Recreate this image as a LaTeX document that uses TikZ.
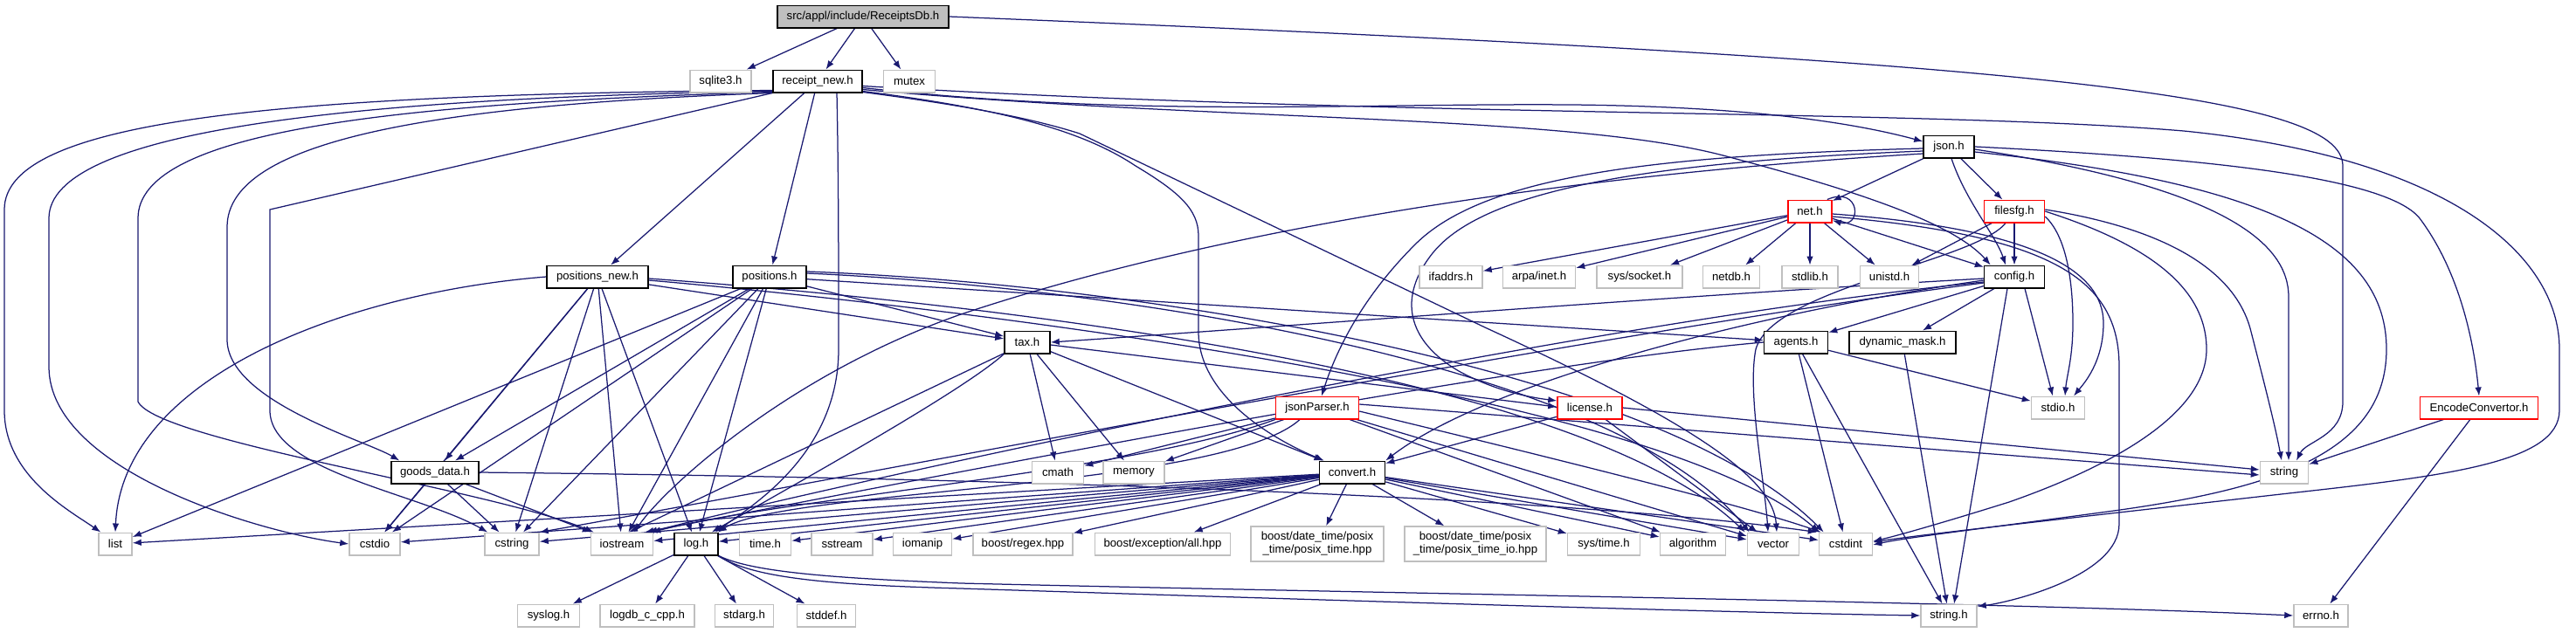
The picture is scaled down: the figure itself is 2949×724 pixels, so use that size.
\documentclass[tikz,border=0pt]{standalone}
\usepackage{fontspec}
\setmainfont{Liberation Sans}
\usetikzlibrary{arrows.meta}
\pgfdeclarelayer{bg}
\pgfsetlayers{bg,main}
\definecolor{navy}{HTML}{191970}
\definecolor{gry}{HTML}{BFBFBF}
\newcommand\lab{\fontsize{13.2}{15}\selectfont}
\tikzset{
 nb/.style={draw=black, line width=1.5pt, fill=white, minimum height=25.5pt, inner sep=0pt, font=\lab},
 ng/.style={nb, draw=gry},
 nr/.style={nb, draw=red},
 nroot/.style={nb, fill=gry},
 inc/.style={draw=navy, line width=1.25pt, -{Latex[length=10pt,width=7.5pt]}},
}
\begin{document}
\begin{tikzpicture}[x=1pt,y=-1pt]
\useasboundingbox (0,0) rectangle (2949,724);
% ---------- nodes ----------
\node[nroot,minimum width=196pt] (root) at (988,19) {src/appl/include/ReceiptsDb.h};
\node[ng,minimum width=70pt] (sqlite) at (825,93) {sqlite3.h};
\node[nb,minimum width=102pt] (rn) at (936,93) {receipt\_new.h};
\node[ng,minimum width=59pt] (mutex) at (1041,93) {mutex};
\node[nb,minimum width=58pt] (json) at (2231,168) {json.h};
\node[nr,minimum width=50pt] (net) at (2072,242) {net.h};
\node[nr,minimum width=69pt] (filesfg) at (2306,242) {filesfg.h};
\node[nb,minimum width=116pt] (pn) at (684,317) {positions\_new.h};
\node[nb,minimum width=84pt] (pos) at (881,317) {positions.h};
\node[ng,minimum width=72pt] (ifaddrs) at (1661,317) {ifaddrs.h};
\node[ng,minimum width=83pt] (arpa) at (1762,317) {arpa/inet.h};
\node[ng,minimum width=98pt] (socket) at (1877,317) {sys/socket.h};
\node[ng,minimum width=65pt] (netdb) at (1982,317) {netdb.h};
\node[ng,minimum width=64pt] (stdlib) at (2072,317) {stdlib.h};
\node[ng,minimum width=67pt] (unistd) at (2163,317) {unistd.h};
\node[nb,minimum width=69pt] (config) at (2306,317) {config.h};
\node[nb,minimum width=52pt] (tax) at (1176,392) {tax.h};
\node[nb,minimum width=73pt] (agents) at (2056,392) {agents.h};
\node[nb,minimum width=122pt] (dmask) at (2178,392) {dynamic\_mask.h};
\node[nr,minimum width=95pt] (jp) at (1508,467) {jsonParser.h};
\node[nr,minimum width=74pt] (lic) at (1820,467) {license.h};
\node[ng,minimum width=61pt] (stdioh) at (2356,467) {stdio.h};
\node[nr,minimum width=135pt] (enc) at (2838,467) {EncodeConvertor.h};
\node[nb,minimum width=100pt] (goods) at (498,541) {goods\_data.h};
\node[ng,minimum width=59pt] (cmath) at (1211,541) {cmath};
\node[ng,minimum width=70pt] (memory) at (1298,541) {memory};
\node[nb,minimum width=75pt] (conv) at (1548,541) {convert.h};
\node[ng,minimum width=55pt] (string) at (2615,541) {string};
\node[ng,minimum width=38pt] (list) at (132,623) {list};
\node[ng,minimum width=58pt] (cstdio) at (429,623) {cstdio};
\node[ng,minimum width=62pt] (cstring) at (586,623) {cstring};
\node[ng,minimum width=71pt] (iostream) at (712,623) {iostream};
\node[nb,minimum width=50pt] (log) at (797,623) {log.h};
\node[ng,minimum width=59pt] (timeh) at (876,623) {time.h};
\node[ng,minimum width=70pt] (sstream) at (964,623) {sstream};
\node[ng,minimum width=67pt] (iomanip) at (1056,623) {iomanip};
\node[ng,minimum width=114pt] (regex) at (1171,623) {boost/regex.hpp};
\node[ng,minimum width=155pt] (exc) at (1331,623) {boost/exception/all.hpp};
\node[ng,minimum width=152pt,minimum height=40pt,align=center] (ptime) at (1508,623) {boost/date\_time/posix\\\_time/posix\_time.hpp};
\node[ng,minimum width=162pt,minimum height=40pt,align=center] (ptimeio) at (1689,623) {boost/date\_time/posix\\\_time/posix\_time\_io.hpp};
\node[ng,minimum width=83pt] (systime) at (1836,623) {sys/time.h};
\node[ng,minimum width=75pt] (algo) at (1938,623) {algorithm};
\node[ng,minimum width=59pt] (vector) at (2030,623) {vector};
\node[ng,minimum width=61pt] (cstdint) at (2113,623) {cstdint};
\node[ng,minimum width=71pt] (syslog) at (628,705) {syslog.h};
\node[ng,minimum width=108pt] (logdb) at (741,705) {logdb\_c\_cpp.h};
\node[ng,minimum width=67pt] (stdarg) at (852,705) {stdarg.h};
\node[ng,minimum width=67pt] (stddef) at (946,705) {stddef.h};
\node[ng,minimum width=64pt] (stringh) at (2231,705) {string.h};
\node[ng,minimum width=62pt] (errno) at (2657,705) {errno.h};
\begin{pgfonlayer}{bg}
% ---------- root ----------
\draw[inc] (root) -- (sqlite);
\draw[inc] (root) -- (rn);
\draw[inc] (root) -- (mutex);
\draw[inc] (root.east) .. controls (2350,70) and (2682,110) .. (2682,190) -- (2682,460) .. controls (2682,500) and (2640,505) .. ([xshift=14pt]string.north);
% ---------- receipt_new ----------
\draw[inc] ([yshift=3pt]rn.south west) .. controls (300,108) and (5,140) .. (5,240) -- (5,470) .. controls (5,545) and (80,585) .. ([xshift=3pt]list.north west);
\draw[inc] ([yshift=2pt]rn.south west) .. controls (400,112) and (56,150) .. (56,250) -- (56,420) .. controls (56,540) and (300,610) .. (cstdio.west);
\draw[inc] ([yshift=1pt]rn.south west) .. controls (450,118) and (158,150) .. (158,250) -- (158,460) .. controls (180,505) and (560,560) .. ([xshift=4pt]iostream.north west);
\draw[inc] (rn.south west) .. controls (500,120) and (260,160) .. (260,260) -- (260,390) .. controls (262,460) and (420,505) .. ([xshift=10pt]goods.north west);
\draw[inc] (rn.south west) -- (309,240) -- (309,470) .. controls (309,540) and (480,565) .. ([xshift=4pt]cstring.north west);
\draw[inc] (rn) -- (pn);
\draw[inc] (rn) -- (pos);
\draw[inc] ([xshift=22pt]rn.south) .. controls (960,200) and (960,300) .. (960,400) .. controls (960,520) and (860,580) .. ([xshift=-4pt]log.north east);
\draw[inc] ([yshift=6pt]rn.south east) .. controls (1300,135) and (1550,118) .. (1800,120) .. controls (2000,122) and (2120,140) .. ([yshift=6pt]json.west);
\draw[inc] ([yshift=4pt]rn.south east) .. controls (1400,140) and (1800,130) .. (1980,180) .. controls (2150,225) and (2240,260) .. ([xshift=8pt]config.north west);
\draw[inc] ([yshift=2pt]rn.south east) .. controls (1150,125) and (1240,150) .. (1300,190) .. controls (1350,220) and (1372,240) .. (1372,270) -- (1372,380) .. controls (1372,450) and (1450,500) .. ([xshift=6pt]conv.north west);
\draw[inc] ([yshift=1pt]rn.south east) .. controls (1100,120) and (1180,135) .. (1236,153) -- (1700,375) .. controls (1950,490) and (2030,550) .. ([xshift=4pt]vector.north);
\draw[inc] ([yshift=8pt]rn.south east) .. controls (1600,135) and (2200,125) .. (2500,150) .. controls (2800,180) and (2930,290) .. (2930,400) -- (2930,470) .. controls (2930,530) and (2800,545) .. (2620,565) .. controls (2400,590) and (2200,612) .. ([yshift=2pt]cstdint.east);
% ---------- json ----------
\draw[inc] (json) -- (net);
\draw[inc] (json) -- (filesfg);
\draw[inc] ([xshift=3pt]json.south) .. controls (2250,230) and (2285,270) .. ([xshift=-10pt]config.north);
\draw[inc] ([yshift=-2pt]json.west) .. controls (1900,178) and (1700,200) .. (1620,280) .. controls (1560,340) and (1530,400) .. ([xshift=5pt]jp.north);
\draw[inc] ([yshift=-5pt]json.west) .. controls (1900,185) and (1700,215) .. (1640,290) .. controls (1600,340) and (1610,390) .. (1670,425) .. controls (1710,447) and (1750,455) .. ([yshift=8pt]lic.west);
\draw[inc] ([yshift=-8pt]json.west) .. controls (1800,200) and (1400,260) .. (1100,360) .. controls (900,430) and (760,560) .. ([xshift=14pt]iostream.north);
\draw[inc] ([yshift=-3pt]json.east) .. controls (2550,215) and (2620,280) .. (2620,340) -- ([xshift=5pt]string.north);
\draw[inc] ([yshift=-6pt]json.east) .. controls (2600,210) and (2732,280) .. (2732,400) .. controls (2732,520) and (2600,560) .. (2420,585) .. controls (2250,608) and (2180,616) .. ([yshift=-1pt]cstdint.east);
\draw[inc] (json.east) .. controls (2500,180) and (2730,200) .. (2770,250) .. controls (2815,310) and (2832,390) .. (enc.north);
% ---------- net ----------
\draw[inc] ([xshift=-6pt]net.north east) .. controls (2130,212) and (2132,262) .. ([yshift=3pt]net.south east);
\draw[inc] (net) -- (ifaddrs);
\draw[inc] (net) -- (arpa);
\draw[inc] (net) -- (socket);
\draw[inc] (net) -- (netdb);
\draw[inc] (net) -- (stdlib);
\draw[inc] (net) -- (unistd);
\draw[inc] (net) -- (config);
\draw[inc] ([yshift=-3pt]net.east) .. controls (2330,262) and (2408,310) .. (2408,370) .. controls (2408,415) and (2385,440) .. ([xshift=18pt]stdioh.north);
\draw[inc] ([yshift=-6pt]net.east) .. controls (2350,270) and (2426,320) .. (2426,420) -- (2426,600) .. controls (2426,660) and (2300,690) .. ([yshift=-3pt]stringh.north east);
% ---------- filesfg ----------
\draw[inc] (filesfg) -- (config);
\draw[inc] (filesfg) -- (unistd);
\draw[inc] ([yshift=-6pt]filesfg.east) .. controls (2365,270) and (2373,320) .. (2373,370) .. controls (2373,410) and (2366,430) .. ([xshift=8pt]stdioh.north);
\draw[inc] ([yshift=2pt]filesfg.east) .. controls (2480,262) and (2560,310) .. (2577,380) .. controls (2595,450) and (2605,490) .. ([xshift=-3pt]string.north);
\draw[inc] (filesfg.east) .. controls (2460,280) and (2526,330) .. (2526,400) .. controls (2526,480) and (2400,540) .. (2300,575) .. controls (2220,600) and (2170,614) .. ([yshift=3pt]cstdint.east);
\draw[inc] ([xshift=-10pt]filesfg.south) .. controls (2260,300) and (2030,330) .. (2010,400) .. controls (2000,450) and (2020,550) .. ([xshift=-6pt]vector.north);
% ---------- config ----------
\draw[inc] (config) -- (agents);
\draw[inc] (config) -- (dmask);
\draw[inc] ([xshift=-8pt]config.south) -- ([xshift=6pt]stringh.north);
\draw[inc] ([xshift=12pt]config.south) -- ([xshift=-6pt]stdioh.north);
\draw[inc] ([yshift=-2pt]config.west) .. controls (1900,340) and (1500,372) .. (tax.east);
\draw[inc] ([yshift=-4pt]config.west) .. controls (2000,360) and (1700,440) .. (conv.north east);
\draw[inc] ([yshift=-6pt]config.west) .. controls (1800,370) and (1000,545) .. ([xshift=-6pt]iostream.north east);
\draw[inc] ([yshift=-7pt]config.west) .. controls (1800,385) and (900,560) .. (cstring.north east);
% ---------- tax ----------
\draw[inc] (tax) -- (cmath);
\draw[inc] (tax) -- (memory);
\draw[inc] (tax) -- (conv);
\draw[inc] ([yshift=-3pt]tax.east) -- ([yshift=1pt]lic.west);
\draw[inc] (tax) -- ([xshift=8pt]iostream.north);
\draw[inc] (tax.south west) .. controls (1100,450) and (900,560) .. ([xshift=-8pt]log.north east);
% ---------- jsonParser ----------
\draw[inc] (jp) -- (cmath);
\draw[inc] (jp) -- (memory);
\draw[inc] ([xshift=-20pt]jp.south) .. controls (1400,560) and (900,560) .. ([xshift=-1pt]log.north east);
\draw[inc] (jp.south west) .. controls (1300,540) and (900,570) .. ([xshift=-2pt]iostream.north east);
\draw[inc] (jp) -- (algo);
\draw[inc] (jp) -- (vector);
\draw[inc] ([yshift=-4pt]jp.east) .. controls (1800,530) and (2000,580) .. ([xshift=3pt]cstdint.north west);
\draw[inc] ([yshift=4pt]jp.east) -- ([yshift=-3pt]string.west);
% ---------- license ----------
\draw[inc] (lic) -- (conv);
\draw[inc] (lic) -- (vector);
\draw[inc] (lic.east) -- ([yshift=3pt]string.west);
% ---------- convert ----------
\draw[inc] (conv) -- (list);
\draw[inc] (conv) -- (cstdio);
\draw[inc] (conv) -- (cstring);
\draw[inc] (conv) -- (iostream);
\draw[inc] (conv) -- (log);
\draw[inc] (conv) -- (timeh);
\draw[inc] (conv) -- (sstream);
\draw[inc] (conv) -- (iomanip);
\draw[inc] (conv) -- (regex);
\draw[inc] (conv) -- (exc);
\draw[inc] (conv) -- (ptime);
\draw[inc] (conv) -- (ptimeio);
\draw[inc] (conv) -- (systime);
\draw[inc] (conv) -- (algo);
\draw[inc] (conv) -- (vector);
\draw[inc] (conv) -- (cstdint);
% ---------- positions_new ----------
\draw[inc] (pn.west) .. controls (400,335) and (140,430) .. (list.north);
\draw[inc] (pn) -- (cstdio);
\draw[inc] (pn) -- (cstring);
\draw[inc] (pn) -- (iostream);
\draw[inc] (pn) -- (goods);
\draw[inc] (pn) -- (log);
\draw[inc] (pn) -- (tax);
\draw[inc] ([yshift=-2pt]pn.east) .. controls (1100,345) and (1800,420) .. ([xshift=-2pt]vector.north west);
\draw[inc] ([yshift=-4pt]pn.east) .. controls (1100,352) and (1900,450) .. ([xshift=1pt]cstdint.north west);
% ---------- positions ----------
\draw[inc] (pos) -- (list);
\draw[inc] (pos) -- (cstdio);
\draw[inc] (pos) -- (cstring);
\draw[inc] (pos) -- (iostream);
\draw[inc] (pos) -- (goods);
\draw[inc] (pos) -- (log);
\draw[inc] (pos) -- (tax);
\draw[inc] (pos) -- (agents);
\draw[inc] ([yshift=4pt]pos.east) .. controls (1300,330) and (1850,420) .. ([xshift=3pt]vector.north west);
\draw[inc] ([yshift=6pt]pos.east) .. controls (1300,325) and (1900,420) .. ([xshift=6pt]cstdint.north west);
% ---------- goods_data ----------
\draw[inc] (goods) -- (cstdio);
\draw[inc] (goods) -- (cstring);
\draw[inc] (goods) -- (iostream);
\draw[inc] (goods.east) .. controls (1200,548) and (1800,570) .. ([xshift=-2pt]cstdint.north west);
% ---------- agents, dynamic_mask ----------
\draw[inc] (agents) -- (stdioh);
\draw[inc] (agents) -- (cstdint);
\draw[inc] (agents) -- (stringh);
\draw[inc] (agents.west) .. controls (1700,420) and (1000,560) .. ([xshift=-10pt]iostream.north east);
\draw[inc] (dmask) -- (stringh);
% ---------- EncodeConvertor ----------
\draw[inc] (enc) -- (string);
\draw[inc] (enc) -- (errno);
% ---------- log ----------
\draw[inc] (log) -- (syslog);
\draw[inc] (log) -- (logdb);
\draw[inc] (log) -- (stdarg);
\draw[inc] (log) -- (stddef);
\draw[inc] (log.south east) .. controls (860,655) and (950,662) .. (1100,668) .. controls (1600,680) and (2300,690) .. (errno.west);
\draw[inc] (log.south east) .. controls (860,662) and (950,670) .. (1100,674) .. controls (1600,690) and (2000,702) .. (stringh.west);
\end{pgfonlayer}
\end{tikzpicture}
\end{document}
